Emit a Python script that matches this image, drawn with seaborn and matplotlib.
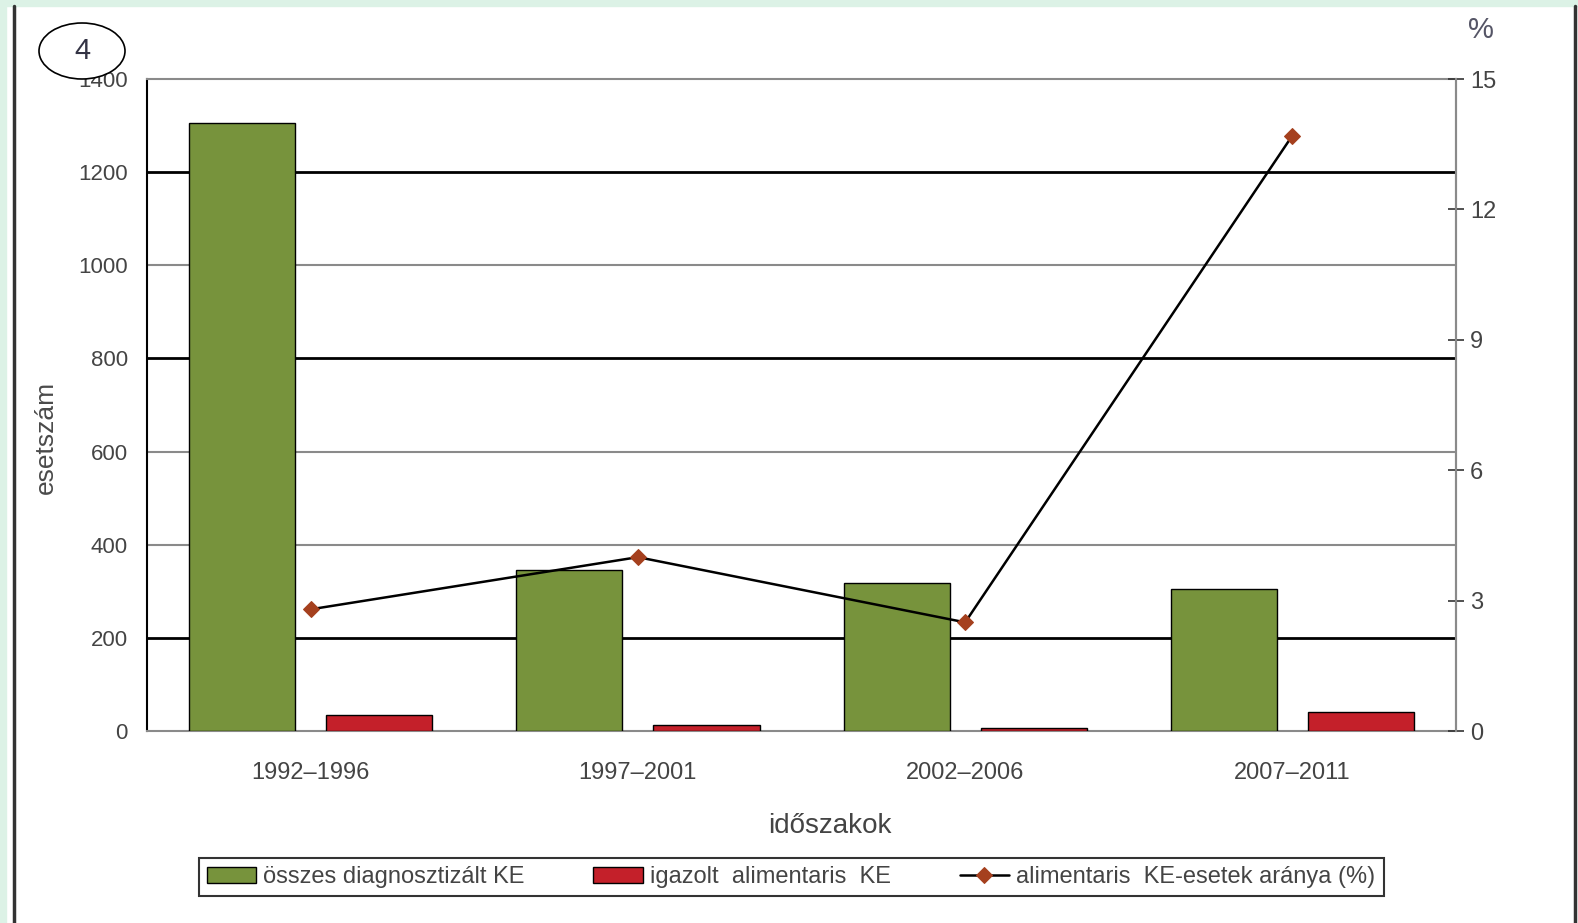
import numpy as np
import pandas as pd
import seaborn as sns
import matplotlib.pyplot as plt
from matplotlib.patches import Ellipse, Rectangle

# data
periods = ["1992–1996", "1997–2001", "2002–2006", "2007–2011"]
osszes = [1305, 346, 318, 305]
igazolt = [34, 13, 6, 41]
arany = [2.8, 4.0, 2.5, 13.7]
series_names = ["összes diagnosztizált KE", "igazolt  alimentaris  KE"]
line_name = "alimentaris  KE-esetek aránya (%)"

df = pd.DataFrame({
    "időszak": periods * 2,
    "eset": osszes + igazolt,
    "sorozat": [series_names[0]] * len(periods) + [series_names[1]] * len(periods),
})

sns.set_style("white")
plt.rcParams['font.family'] = ['Liberation Sans', 'DejaVu Sans']

fig = plt.figure(figsize=(15.78, 9.23), dpi=100)
fig.patch.set_facecolor("white")

# page decoration: mint border and black rules
fig.patches.append(Rectangle((0, 1 - 6 / 923), 1, 6 / 923, transform=fig.transFigure,
                             color="#dcf2e6", zorder=0))
fig.patches.append(Rectangle((0, 0), 6 / 1578, 1, transform=fig.transFigure,
                             color="#dcf2e6", zorder=0))
fig.lines.append(plt.Line2D([14 / 1578, 14 / 1578], [0, 1 - 6 / 923], transform=fig.transFigure,
                            color="#333333", lw=2.5))
fig.lines.append(plt.Line2D([1575 / 1578, 1575 / 1578], [0, 1 - 6 / 923], transform=fig.transFigure,
                            color="#333333", lw=2.5))

ax = fig.add_axes([0.0932, 0.208, 0.8295, 0.7064])
sns.barplot(data=df, x="időszak", y="eset", hue="sorozat",
            palette=["#77933C", "#C4202A"], saturation=1, width=0.838, gap=0.226,
            edgecolor="black", linewidth=1, ax=ax, zorder=3)
ax.set_ylim(0, 1400)
ax.set_xlim(-0.5, 3.5)
ax.set_yticks(range(0, 1401, 200))

# horizontal gridlines: alternating black / gray like the original
grid_style = {200: ("black", 2.0), 400: ("#8a8a8a", 1.5), 600: ("#8a8a8a", 1.5),
              800: ("black", 2.0), 1000: ("#8a8a8a", 1.5), 1200: ("black", 2.0)}
for yv, (c, lw) in grid_style.items():
    ax.axhline(yv, color=c, lw=lw, zorder=1)

for side in ["top", "right", "bottom"]:
    ax.spines[side].set_color("#8a8a8a")
    ax.spines[side].set_linewidth(1.5)
ax.spines["left"].set_color("black")
ax.spines["left"].set_linewidth(1.5)

ax.tick_params(axis="y", length=0, pad=14, labelsize=16, labelcolor="#444444")
ax.tick_params(axis="x", length=0, pad=22, labelsize=17, labelcolor="#444444")
ax.set_xlabel("időszakok", fontsize=20, color="#444444")
ax.xaxis.set_label_coords(0.522, -0.125)
ax.set_ylabel("esetszám", fontsize=19, color="#4a4a4a")
ax.yaxis.set_label_coords(-0.068, 0.451)

ax2 = ax.twinx()
sns.lineplot(x=np.arange(len(periods)), y=arany, ax=ax2, color="black", lw=1.8,
             marker="D", markersize=8, markerfacecolor="#A5401E",
             markeredgecolor="#A5401E", label=line_name)
ax2.set_ylim(0, 15)
ax2.set_yticks(range(0, 16, 3))
ax2.set_xlim(-0.5, 3.5)
ax2.tick_params(axis="y", direction="inout", length=12, width=1.2, color="#333333",
                pad=4, labelsize=17, labelcolor="#444444")
for side in ["top", "left", "bottom"]:
    ax2.spines[side].set_visible(False)
ax2.spines["right"].set_color("#8a8a8a")
ax2.spines["right"].set_linewidth(1.5)
ax2.set_ylabel("")

h1, l1 = ax.get_legend_handles_labels()
h2, l2 = ax2.get_legend_handles_labels()
ax.get_legend().remove()
ax2.get_legend().remove()
leg = fig.legend(h1 + h2, l1 + l2, loc="center", bbox_to_anchor=(0.5013, 0.0498),
                 ncol=3, frameon=True, fancybox=False, edgecolor="black",
                 fontsize=17, handlelength=2.1, handleheight=0.7,
                 handletextpad=0.3, columnspacing=2.9, borderpad=0.35)
leg.get_frame().set_linewidth(1.5)
for t in leg.get_texts():
    t.set_color("#444444")

fig.text(1481 / 1578, 1 - 30 / 923, "%", fontsize=21, color="#555566",
         ha="center", va="center")

circ = Ellipse((82 / 1578, 1 - 51 / 923), 86 / 1578, 56 / 923, transform=fig.transFigure,
               facecolor="white", edgecolor="black", lw=1.2, zorder=5)
fig.patches.append(circ)
fig.text(82 / 1578, 1 - 51 / 923, "4", fontsize=21, color="#333344",
         ha="center", va="center", zorder=6)

plt.savefig("out.png", dpi=100)
